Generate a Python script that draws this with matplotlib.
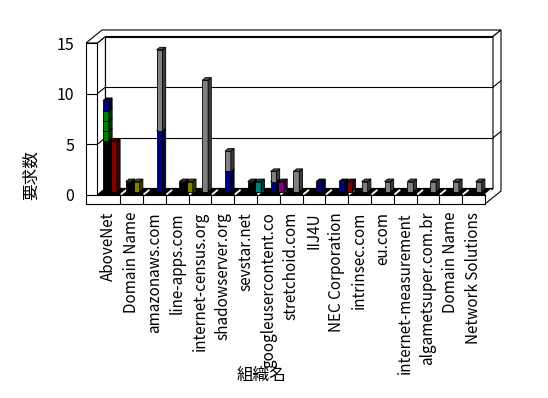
import numpy as np
import matplotlib
matplotlib.use('Agg')
import matplotlib.pyplot as plt
from matplotlib.patches import Polygon

plt.rcParams['font.family'] = ['Noto Sans CJK JP', 'DejaVu Sans']

# categories (organisation names as shown, truncated like the original)
categories = ['AboveNet', 'Domain Name', 'amazonaws.com', 'line-apps.com',
              'internet-census.org', 'shadowserver.org', 'sevstar.net',
              'googleusercontent.co', 'stretchoid.com', 'IIJ4U', 'NEC Corporation',
              'intrinsec.com', 'eu.com', 'internet-measurement', 'algametsuper.com.br',
              'Domain Name', 'Network Solutions']
n = len(categories)

# left column of each group
left_black   = [5, 1, 0, 0, 0, 0, 0, 0, 0, 0, 0, 0, 0, 0, 0, 0, 0]
left_green_a = [1, 0, 0, 0, 0, 0, 0, 0, 0, 0, 0, 0, 0, 0, 0, 0, 0]
left_green_b = [1, 0, 0, 0, 0, 0, 0, 0, 0, 0, 0, 0, 0, 0, 0, 0, 0]
left_green_c = [1, 0, 0, 0, 0, 0, 0, 0, 0, 0, 0, 0, 0, 0, 0, 0, 0]
left_navy    = [1, 0, 0, 0, 0, 0, 0, 0, 0, 0, 0, 0, 0, 0, 0, 0, 0]
# middle column
mid_red   = [5, 0, 0, 0, 0, 0, 0, 0, 0, 0, 0, 0, 0, 0, 0, 0, 0]
mid_black = [0, 0, 0, 1, 0, 0, 1, 0, 0, 0, 0, 0, 0, 0, 0, 0, 0]
mid_olive = [0, 1, 0, 0, 0, 0, 0, 0, 0, 0, 0, 0, 0, 0, 0, 0, 0]
mid_navy  = [0, 0, 6, 0, 0, 2, 0, 1, 0, 1, 1, 0, 0, 0, 0, 0, 0]
mid_gray  = [0, 0, 8, 0, 11, 2, 0, 1, 2, 0, 0, 1, 1, 1, 1, 1, 1]
# right column
right_olive  = [0, 0, 0, 1, 0, 0, 0, 0, 0, 0, 0, 0, 0, 0, 0, 0, 0]
right_teal   = [0, 0, 0, 0, 0, 0, 1, 0, 0, 0, 0, 0, 0, 0, 0, 0, 0]
right_purple = [0, 0, 0, 0, 0, 0, 0, 1, 0, 0, 0, 0, 0, 0, 0, 0, 0]
right_red    = [0, 0, 0, 0, 0, 0, 0, 0, 0, 0, 1, 0, 0, 0, 0, 0, 0]

yticks = [0, 5, 10, 15]

W, H = 548, 398
fig = plt.figure(figsize=(W / 100, H / 100), dpi=100)
ax = fig.add_axes([97.4 / W, 1 - 195 / H, (485 - 97.4) / W, (195 - 43) / H])
ax.set_xlim(-0.5, n - 0.5)
ax.set_ylim(0, 15)

pxx = (485 - 97.4) / n      # pixels per category
pxy = 152 / 15              # pixels per unit
DX = 8 / pxx                # depth shift per depth unit
DY = 6.5 / pxy
T = 9 / pxy                 # floor thickness
x0, x1 = -0.5, n - 0.5
xw = x0 - 11.4 / pxx        # outer face of the left wall


def p(x, y, d):
    return (x + d * DX, y + d * DY)


def face(pts, fc, z=1, lw=0.8):
    ax.add_patch(Polygon([p(*q) for q in pts], closed=True, facecolor=fc,
                         edgecolor='black', lw=lw, zorder=z, clip_on=False))


def line(a, b, color='black', lw=0.8, z=1.5):
    pa, pb = p(*a), p(*b)
    ax.plot([pa[0], pb[0]], [pa[1], pb[1]], color=color, lw=lw, zorder=z,
            clip_on=False, solid_capstyle='butt')


# walls and floor
face([(x0, 0, 1), (x1, 0, 1), (x1, 15, 1), (x0, 15, 1)], 'white')
face([(x0, 0, 0), (x0, 15, 0), (x0, 15, 1), (x0, 0, 1)], 'white')
face([(xw, 15, 0), (x0, 15, 0), (x0, 15, 1), (x1, 15, 1), (x1, 15, 2), (xw, 15, 2)], 'white')
face([(x1, -T, 0), (x1, 0, 0), (x1, 0, 1), (x1, 15, 1), (x1, 15, 2), (x1, -T, 2)], 'white')
face([(xw, -T, 0), (x1, -T, 0), (x1, 0, 0), (x0, 0, 0), (x0, 15, 0), (xw, 15, 0)], 'white')
face([(x0, 0, 0), (x1, 0, 0), (x1, 0, 1), (x0, 0, 1)], 'black', z=1.2)

for v in yticks[1:-1]:
    line((x0, v, 0), (x0, v, 1))
    line((x0, v, 1), (x1, v, 1))
    line((x1, v, 1), (x1, v, 2))
for v in yticks[:-1]:
    line((xw, v, 0), (x0, v, 0))
for k in range(1, n + 1):
    b = x0 + k
    line((b, 0, 0.08), (b, 0, 0.8), color='white', lw=1.3, z=1.4)
    if k < n:
        line((b, -T, 0), (b, 0, 0))

# bars
slots = [
    (-0.30, [(left_black, '#000000'), (left_green_a, '#008000'), (left_green_b, '#008000'),
             (left_green_c, '#008000'), (left_navy, '#000080')]),
    (0.05, [(mid_red, '#800000'), (mid_black, '#000000'), (mid_olive, '#808000'),
            (mid_navy, '#000080'), (mid_gray, '#808080')]),
    (0.38, [(right_olive, '#808000'), (right_teal, '#008080'),
            (right_purple, '#800080'), (right_red, '#800000')]),
]
bw = 0.26
d0, d1 = 0.5, 0.9

for off, stack in slots:
    bottom = np.zeros(n)
    for vals, col in stack:
        vals = np.array(vals, float)
        m = vals > 0
        xs = np.arange(n) + off
        ax.bar(xs[m] + d0 * DX, vals[m], width=bw, bottom=bottom[m] + d0 * DY,
               color=col, edgecolor='black', lw=0.6, zorder=3, clip_on=False)
        rgb = np.array(matplotlib.colors.to_rgb(col))
        top_c = rgb * 0.6 if rgb.sum() > 0 else (0.2, 0.2, 0.2)
        side_c = rgb * 0.45
        for i in np.where(m)[0]:
            xa, xb = xs[i] - bw / 2, xs[i] + bw / 2
            yb, yt = bottom[i], bottom[i] + vals[i]
            face([(xa, yt, d0), (xb, yt, d0), (xb, yt, d1), (xa, yt, d1)], top_c, z=3, lw=0.6)
            face([(xb, yb, d0), (xb, yt, d0), (xb, yt, d1), (xb, yb, d1)], side_c, z=3, lw=0.6)
        bottom = bottom + vals

for s in ax.spines.values():
    s.set_visible(False)
ax.patch.set_visible(False)

ax.set_yticks(yticks)
ax.tick_params(axis='y', length=0, pad=16.8, labelsize=11.5)
ax.set_xticks(range(n))
ax.set_xticklabels(categories, rotation=90)
ax.tick_params(axis='x', length=0, pad=12.2, labelsize=11)

ax.set_ylabel('要求数', fontsize=12)
ax.yaxis.set_label_coords(-0.148, 0.13)
ax.set_xlabel('組織名', fontsize=12)
ax.xaxis.set_label_coords(0.4247, -1.13)

fig.savefig('out.png', dpi=100)
